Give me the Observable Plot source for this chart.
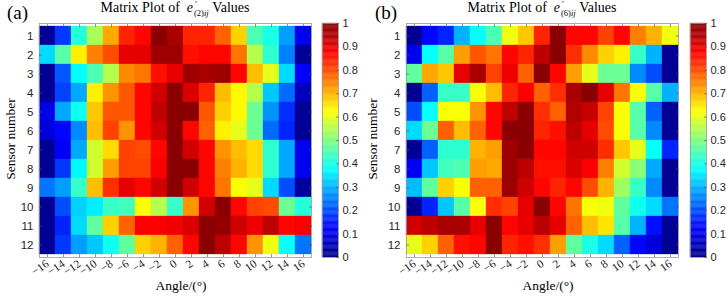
<!DOCTYPE html>
<html>
<head>
<meta charset="utf-8">
<script src="https://cdn.jsdelivr.net/npm/d3@7"></script>
<script src="https://cdn.jsdelivr.net/npm/@observablehq/plot@0.6"></script>
<style>
  html, body { margin: 0; padding: 0; background: #fff; }
  #fig { position: relative; width: 727px; height: 300px; overflow: hidden; background: #fff; }
  #fig > * { position: absolute; }
  .serif { font-family: "Liberation Serif", "DejaVu Serif", serif; color: #000; white-space: nowrap; }
  .panel-tag { font-size: 19px; }
  .title { font-size: 14px; text-align: center; }
  .xlabel { font-size: 13.5px; text-align: center; }
  .ylabel { font-size: 13.5px; transform: rotate(-90deg); transform-origin: center center; text-align: center; }
  .sub { position: relative; font-size: 8.5px; top: 4px; margin-left: 1px; }
  .prime { position: absolute; font-size: 9px; left: 1px; top: -9px; }
</style>
</head>
<body>
<div id="fig"></div>
<script>
// Incidence angles (columns) and sensor indices (rows)
const angles = [-16, -14, -12, -10, -8, -6, -4, -2, 0, 2, 4, 6, 8, 10, 12, 14, 16];
const sensors = [1, 2, 3, 4, 5, 6, 7, 8, 9, 10, 11, 12];

// Normalised e'(2)ij values, one row per sensor
const e2Values = [
  [0.02, 0.18, 0.41, 0.54, 0.71, 0.84, 0.87, 0.99, 0.96, 0.84, 0.84, 0.78, 0.67, 0.45, 0.40, 0.28, 0.11],
  [0.34, 0.46, 0.64, 0.75, 0.80, 0.90, 0.90, 0.97, 0.97, 0.86, 0.87, 0.87, 0.76, 0.55, 0.42, 0.25, 0.02],
  [0.02, 0.21, 0.38, 0.45, 0.55, 0.74, 0.76, 0.86, 0.90, 0.97, 0.96, 0.97, 0.87, 0.69, 0.60, 0.34, 0.12],
  [0.02, 0.19, 0.29, 0.64, 0.73, 0.79, 0.87, 0.92, 0.99, 0.91, 0.84, 0.69, 0.63, 0.55, 0.32, 0.23, 0.06],
  [0.10, 0.29, 0.39, 0.68, 0.79, 0.79, 0.87, 0.94, 0.99, 0.99, 0.79, 0.67, 0.63, 0.48, 0.27, 0.17, 0.02],
  [0.09, 0.13, 0.26, 0.69, 0.81, 0.73, 0.87, 0.92, 0.99, 0.87, 0.78, 0.64, 0.60, 0.48, 0.23, 0.16, 0.02],
  [0.02, 0.12, 0.29, 0.58, 0.66, 0.81, 0.80, 0.87, 0.99, 0.92, 0.87, 0.73, 0.69, 0.66, 0.42, 0.29, 0.11],
  [0.02, 0.18, 0.37, 0.58, 0.72, 0.81, 0.81, 0.88, 0.99, 0.99, 0.87, 0.75, 0.70, 0.66, 0.42, 0.29, 0.11],
  [0.24, 0.28, 0.43, 0.69, 0.83, 0.90, 0.87, 0.92, 0.99, 0.92, 0.87, 0.76, 0.62, 0.60, 0.34, 0.20, 0.03],
  [0.02, 0.20, 0.33, 0.36, 0.43, 0.44, 0.62, 0.55, 0.43, 0.73, 0.92, 0.99, 0.87, 0.81, 0.80, 0.48, 0.41],
  [0.02, 0.16, 0.34, 0.47, 0.67, 0.78, 0.88, 0.88, 0.89, 0.91, 0.99, 0.98, 0.92, 0.89, 0.94, 0.87, 0.88],
  [0.02, 0.18, 0.28, 0.32, 0.39, 0.47, 0.67, 0.70, 0.78, 0.87, 0.99, 0.94, 0.87, 0.73, 0.61, 0.38, 0.24]
];

// Normalised e'(6)ij values, one row per sensor
const e6Values = [
  [0.02, 0.13, 0.16, 0.30, 0.38, 0.45, 0.61, 0.68, 0.84, 0.99, 0.87, 0.87, 0.81, 0.87, 0.75, 0.70, 0.61],
  [0.11, 0.38, 0.46, 0.72, 0.79, 0.76, 0.87, 0.84, 0.94, 0.99, 0.83, 0.74, 0.67, 0.64, 0.43, 0.30, 0.02],
  [0.47, 0.71, 0.68, 0.90, 0.96, 0.81, 0.89, 0.78, 0.99, 0.87, 0.72, 0.60, 0.48, 0.48, 0.26, 0.20, 0.02],
  [0.02, 0.22, 0.43, 0.43, 0.62, 0.69, 0.84, 0.88, 0.78, 0.83, 0.96, 0.99, 0.90, 0.76, 0.62, 0.46, 0.30],
  [0.20, 0.38, 0.62, 0.62, 0.73, 0.87, 0.94, 0.99, 0.83, 0.78, 0.95, 0.93, 0.81, 0.62, 0.46, 0.22, 0.02],
  [0.34, 0.48, 0.78, 0.69, 0.78, 0.87, 0.99, 0.99, 0.84, 0.86, 0.94, 0.90, 0.80, 0.62, 0.46, 0.26, 0.02],
  [0.02, 0.22, 0.42, 0.42, 0.70, 0.72, 0.97, 0.99, 0.87, 0.87, 0.92, 0.92, 0.83, 0.68, 0.60, 0.38, 0.16],
  [0.12, 0.32, 0.44, 0.45, 0.72, 0.71, 0.97, 0.94, 0.86, 0.86, 0.91, 0.88, 0.75, 0.58, 0.51, 0.29, 0.02],
  [0.31, 0.47, 0.67, 0.62, 0.78, 0.78, 0.97, 0.92, 0.87, 0.84, 0.87, 0.80, 0.70, 0.53, 0.43, 0.26, 0.02],
  [0.02, 0.16, 0.32, 0.46, 0.62, 0.83, 0.81, 0.90, 0.99, 0.87, 0.76, 0.62, 0.61, 0.47, 0.39, 0.34, 0.24],
  [0.92, 0.94, 0.96, 0.96, 0.90, 0.99, 0.87, 0.90, 0.94, 0.90, 0.78, 0.69, 0.65, 0.46, 0.30, 0.14, 0.02],
  [0.60, 0.67, 0.78, 0.86, 0.87, 0.99, 0.84, 0.86, 0.83, 0.72, 0.47, 0.40, 0.34, 0.22, 0.13, 0.09, 0.02]
];

// Colour bar tick values
const colorbarTicks = [0, 0.1, 0.2, 0.3, 0.4, 0.5, 0.6, 0.7, 0.8, 0.9, 1];

// Jet colour map as a piecewise-linear scale
const jet = {
  type: "linear",
  domain: [0, 0.125, 0.375, 0.625, 0.875, 1],
  range: ["#000080", "#0000ff", "#00ffff", "#ffff00", "#ff0000", "#800000"],
  interpolate: "rgb",
  clamp: true
};

const SANS = "'Liberation Sans', Arial, sans-serif";
const SERIF = "'Liberation Serif', 'Times New Roman', serif";
const TICK = "#262626";

function toCells(matrix) {
  const cells = [];
  matrix.forEach((row, i) => row.forEach((v, j) => cells.push({sensor: sensors[i], angle: angles[j], value: v})));
  return cells;
}

const fmtAngle = d => d < 0 ? "\u2212" + Math.abs(d) : String(d);

function heatmap(matrix) {
  return Plot.plot({
    width: 320,
    height: 300,
    marginLeft: 40,
    marginRight: 8,
    marginTop: 23,
    marginBottom: 43,
    style: {fontFamily: SANS, fontSize: "11px", color: TICK, background: "transparent"},
    x: {type: "band", domain: angles, padding: 0, label: null},
    y: {type: "band", domain: sensors, padding: 0, label: null},
    color: jet,
    marks: [
      Plot.cell(toCells(matrix), {x: "angle", y: "sensor", fill: "value", inset: 0, stroke: "value", strokeWidth: 0.3}),
      Plot.frame({stroke: "#9a9a9a", strokeWidth: 0.8}),
      // inward ticks on all four sides
      Plot.axisX({anchor: "bottom", tickSize: 3, dy: -3, text: null, label: null, stroke: "#555", strokeWidth: 0.6}),
      Plot.axisX({anchor: "top", tickSize: 3, dy: 3, text: null, label: null, stroke: "#555", strokeWidth: 0.6}),
      Plot.axisY({anchor: "left", tickSize: 3, dx: 3, text: null, label: null, stroke: "#555", strokeWidth: 0.6}),
      Plot.axisY({anchor: "right", tickSize: 3, dx: -3, text: null, label: null, stroke: "#555", strokeWidth: 0.6}),
      // tick labels
      Plot.axisX({anchor: "bottom", tickSize: 0, tickPadding: 5, tickRotate: -35, tickFormat: fmtAngle,
                  fontFamily: SERIF, fontSize: 11.5, fill: TICK, label: null}),
      Plot.axisY({anchor: "left", tickSize: 0, tickPadding: 6, fontFamily: SANS, fontSize: 11.5, fill: TICK, label: null})
    ]
  });
}

function colorbar() {
  const stops = d3.range(0, 1, 1 / 200).map(v => ({lo: v, hi: v + 1 / 200}));
  return Plot.plot({
    width: 58,
    height: 300,
    marginLeft: 22,
    marginRight: 20,
    marginTop: 23,
    marginBottom: 43,
    style: {fontFamily: SANS, fontSize: "11px", color: TICK, background: "transparent"},
    x: {domain: [0, 1], axis: null},
    y: {domain: [0, 1], label: null},
    color: jet,
    marks: [
      Plot.rect(stops, {x1: 0, x2: 1, y1: "lo", y2: "hi", fill: d => (d.lo + d.hi) / 2, stroke: d => (d.lo + d.hi) / 2, strokeWidth: 0.3}),
      Plot.frame({stroke: "#9a9a9a", strokeWidth: 0.8}),
      Plot.axisY(colorbarTicks, {anchor: "right", tickSize: 3, dx: -3, text: null, label: null, stroke: "#555", strokeWidth: 0.6}),
      Plot.axisY(colorbarTicks, {anchor: "right", tickSize: 0, tickPadding: 4, tickFormat: d => String(+d.toFixed(1)),
                  fontFamily: SANS, fontSize: 11, fill: TICK, label: null})
    ]
  });
}

const fig = document.getElementById("fig");

function place(el, left, top) {
  el.style.left = left + "px";
  el.style.top = top + "px";
  fig.appendChild(el);
  return el;
}

function textDiv(cls, html, css) {
  const d = document.createElement("div");
  d.className = "serif " + cls;
  d.innerHTML = html;
  Object.assign(d.style, css);
  fig.appendChild(d);
  return d;
}

function panel(opts) {
  place(heatmap(opts.values), opts.left, 0);
  place(colorbar(), opts.cbLeft, 0);
  textDiv("panel-tag", opts.tag, {left: opts.tagLeft + "px", top: "2px"});
  textDiv("title",
    `Matrix Plot of&nbsp;&nbsp;<i>e</i><span class="sub"><span class="prime">\u2032</span>(${opts.order})<i>ij</i></span>&nbsp;Values`,
    {left: (opts.left + 40) + "px", width: "272px", top: "0px"});
  textDiv("xlabel", "Angle/(\u00b0)", {left: (opts.left + 46) + "px", width: "272px", top: "278px"});
  textDiv("ylabel", "Sensor number", {left: (opts.yLabelX - 60) + "px", width: "120px", top: "131px"});
}

panel({values: e2Values, order: 2, left: -1, cbLeft: 300, tag: "(a)", tagLeft: 7, yLabelX: 11});
panel({values: e6Values, order: 6, left: 366, cbLeft: 668, tag: "(b)", tagLeft: 375, yLabelX: 373});
</script>
</body>
</html>
